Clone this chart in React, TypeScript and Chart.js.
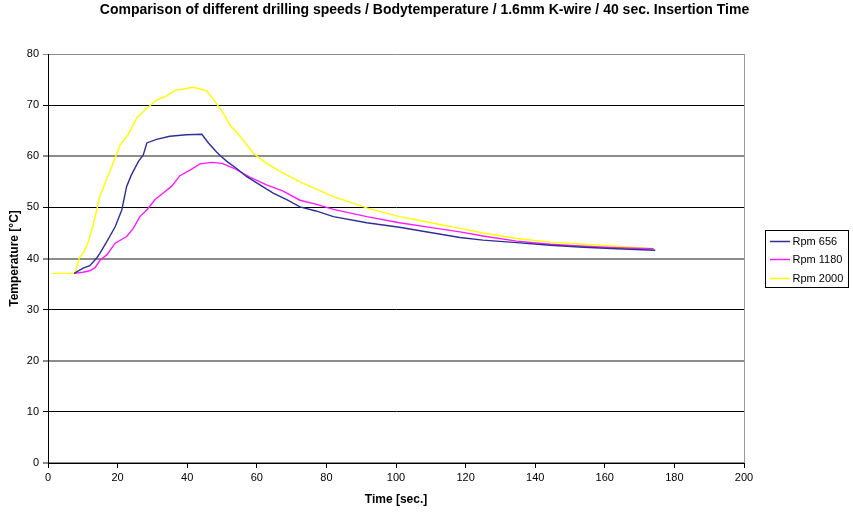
import React, { useEffect, useRef } from "react";
import { Chart, registerables } from "chart.js";

Chart.register(...registerables);

const TITLE = "Comparison of different drilling speeds / Bodytemperature / 1.6mm K-wire / 40 sec. Insertion Time";
const X_TITLE = "Time [sec.]";
const Y_TITLE = "Temperature [°C]";
const SERIES_LABELS = ["Rpm 656", "Rpm 1180", "Rpm 2000"];
const SERIES_COLORS = ["#2f2f93", "#ff1aff", "#ffff00"];

const rpm656Time = [7.5, 10.1, 12, 14, 14.9, 16.9, 19.3, 21.2, 22.6, 24, 26, 27.4, 28.4, 31.2, 35, 39.8, 44.2, 46.1, 48.5, 49.7, 51.4, 54.2, 57.1, 60.9, 64.7, 68.6, 72.4, 77, 82, 91.6, 101, 110.7, 118.4, 125, 134.7, 144.3, 153.9, 163.4, 174.5];
const rpm656Temp = [37.1, 38.1, 38.6, 40.1, 41, 43.3, 46.2, 49.5, 54.1, 56.4, 59, 60.3, 62.6, 63.3, 63.9, 64.2, 64.3, 62.6, 60.8, 60, 59, 57.6, 56, 54.4, 52.8, 51.5, 50.1, 49.3, 48.2, 47, 46.1, 45.0, 44.1, 43.6, 43.1, 42.6, 42.2, 41.9, 41.6];

const rpm1180Time = [7.5, 10, 12, 13.5, 15, 16.9, 19.3, 22.6, 24.5, 26.4, 28.4, 30.7, 33.1, 35.5, 37.9, 40.8, 43.7, 47, 50, 53.3, 58, 62.8, 67.6, 72.4, 77.2, 82, 91.6, 101, 110.7, 118.4, 125, 134.7, 144.3, 153.9, 163.4, 174];
const rpm1180Temp = [37.1, 37.3, 37.6, 38.2, 39.7, 40.7, 43, 44.3, 45.9, 48.2, 49.5, 51.5, 52.8, 54.1, 56.2, 57.3, 58.5, 58.8, 58.6, 57.7, 55.9, 54.4, 53.2, 51.4, 50.6, 49.6, 48.2, 47.0, 46.0, 45.2, 44.4, 43.4, 42.8, 42.4, 42.1, 41.9];

const rpm2000Time = [1.2, 7.8, 9, 10.5, 11.6, 13, 14.9, 16.4, 17.8, 20.7, 23, 25.5, 28.4, 31.2, 34.1, 36.5, 41.8, 45.6, 48, 50.4, 52.3, 55.2, 59, 62.8, 67.6, 72.4, 82, 91.6, 101, 110.7, 118.4, 125, 134.7, 144.3, 153.9, 163.4, 174];
const rpm2000Temp = [37.1, 37.1, 40.1, 41.5, 43.3, 46.6, 52.1, 54.8, 57, 62.2, 64.2, 67.5, 69.4, 71, 71.8, 72.9, 73.5, 72.8, 70.7, 68.4, 66.1, 63.9, 60.6, 58.6, 56.7, 55, 52.1, 49.9, 48.2, 46.9, 45.9, 45, 43.9, 43.2, 42.8, 42.4, 41.9];

const X_MIN = 0, X_MAX = 200, X_STEP = 20;
const Y_MIN = 0, Y_MAX = 80, Y_STEP = 10;

const FONT = "'Liberation Sans', Arial, sans-serif";

function toPoints(xs: number[], ys: number[]) {
  return xs.map((x, i) => ({ x, y: ys[i] }));
}

const fullTitle = {
  id: "fullTitle",
  afterDraw(chart: any) {
    const { ctx } = chart;
    ctx.save();
    ctx.font = `bold 14px ${FONT}`;
    ctx.fillStyle = "#000";
    ctx.textAlign = "center";
    ctx.textBaseline = "middle";
    ctx.fillText(TITLE, chart.width / 2 - 2, 10.5);
    ctx.restore();
  },
};

const boxLegend = {
  id: "boxLegend",
  afterDraw(chart: any) {
    const { ctx, chartArea } = chart;
    const left = chartArea.right + 21.5;
    const w = 83;
    const h = 57;
    const top = Math.round((chartArea.top + chartArea.bottom) / 2 - h / 2) + 0.5;
    ctx.save();
    ctx.strokeStyle = "#000";
    ctx.lineWidth = 1;
    ctx.strokeRect(left, top, w, h);
    ctx.font = `11px ${FONT}`;
    ctx.textBaseline = "middle";
    ctx.textAlign = "left";
    chart.data.datasets.forEach((ds: any, i: number) => {
      const y = Math.round(top + 10 + i * 18.5) + 0.5;
      ctx.strokeStyle = ds.borderColor;
      ctx.lineWidth = 1.5;
      ctx.beginPath();
      ctx.moveTo(left + 4.5, y);
      ctx.lineTo(left + 24.5, y);
      ctx.stroke();
      ctx.fillStyle = "#000";
      ctx.fillText(ds.label, left + 27, y);
    });
    ctx.restore();
  },
};

export default function App() {
  const ref = useRef<HTMLCanvasElement | null>(null);
  useEffect(() => {
    if (!ref.current) return;
    const seriesX = [rpm656Time, rpm1180Time, rpm2000Time];
    const seriesY = [rpm656Temp, rpm1180Temp, rpm2000Temp];
    const chart = new Chart(ref.current, {
      type: "line",
      data: {
        datasets: SERIES_LABELS.map((label, i) => ({
          label,
          data: toPoints(seriesX[i], seriesY[i]),
          borderColor: SERIES_COLORS[i],
          backgroundColor: SERIES_COLORS[i],
          borderWidth: 1.4,
          pointRadius: 0,
          tension: 0,
          fill: false,
        })),
      },
      options: {
        animation: false,
        responsive: false,
        devicePixelRatio: 1,
        layout: { padding: { right: 109, left: 0, top: 54, bottom: 0 } },
        plugins: {
          legend: { display: false },
          tooltip: { enabled: false },
          title: { display: false },
        },
        scales: {
          x: {
            type: "linear",
            min: X_MIN,
            max: X_MAX,
            ticks: { stepSize: X_STEP, color: "#000", font: { family: FONT, size: 11 }, padding: 3, maxRotation: 0 },
            grid: {
              color: (c: any) => (c.tick && c.tick.value === X_MAX ? "#999" : "rgba(0,0,0,0)"),
              tickColor: "#000",
              tickLength: 5,
              lineWidth: 1,
            },
            border: { color: "#000", width: 1 },
            title: {
              display: true,
              text: X_TITLE,
              color: "#000",
              font: { family: FONT, size: 12, weight: "bold" },
              padding: { top: 0, bottom: 5 },
            },
            afterFit: (s: any) => {
              s.height = 49;
            },
          },
          y: {
            type: "linear",
            min: Y_MIN,
            max: Y_MAX,
            ticks: { stepSize: Y_STEP, color: "#000", font: { family: FONT, size: 11 }, padding: 4 },
            grid: {
              color: (c: any) => (c.tick && c.tick.value % 20 === 0 ? "#8c8c8c" : "#000"),
              lineWidth: (c: any) => (c.tick && c.tick.value === Y_MAX ? 1 : c.tick && c.tick.value % 20 === 0 ? 2 : 1),
              tickLength: 5,
            },
            border: { color: "#000", width: 1 },
            title: {
              display: true,
              text: Y_TITLE,
              color: "#000",
              font: { family: FONT, size: 12, weight: "bold" },
              padding: { top: 7, bottom: 0 },
            },
            afterFit: (s: any) => {
              s.width = 48;
            },
          },
        },
      },
      plugins: [fullTitle, boxLegend],
    });
    return () => chart.destroy();
  }, []);
  return (
    <div style={{ position: "fixed", left: 0, top: 0, width: 853, height: 512, background: "#fff" }}>
      <canvas ref={ref} width={853} height={512} style={{ width: 853, height: 512, display: "block" }} />
    </div>
  );
}
